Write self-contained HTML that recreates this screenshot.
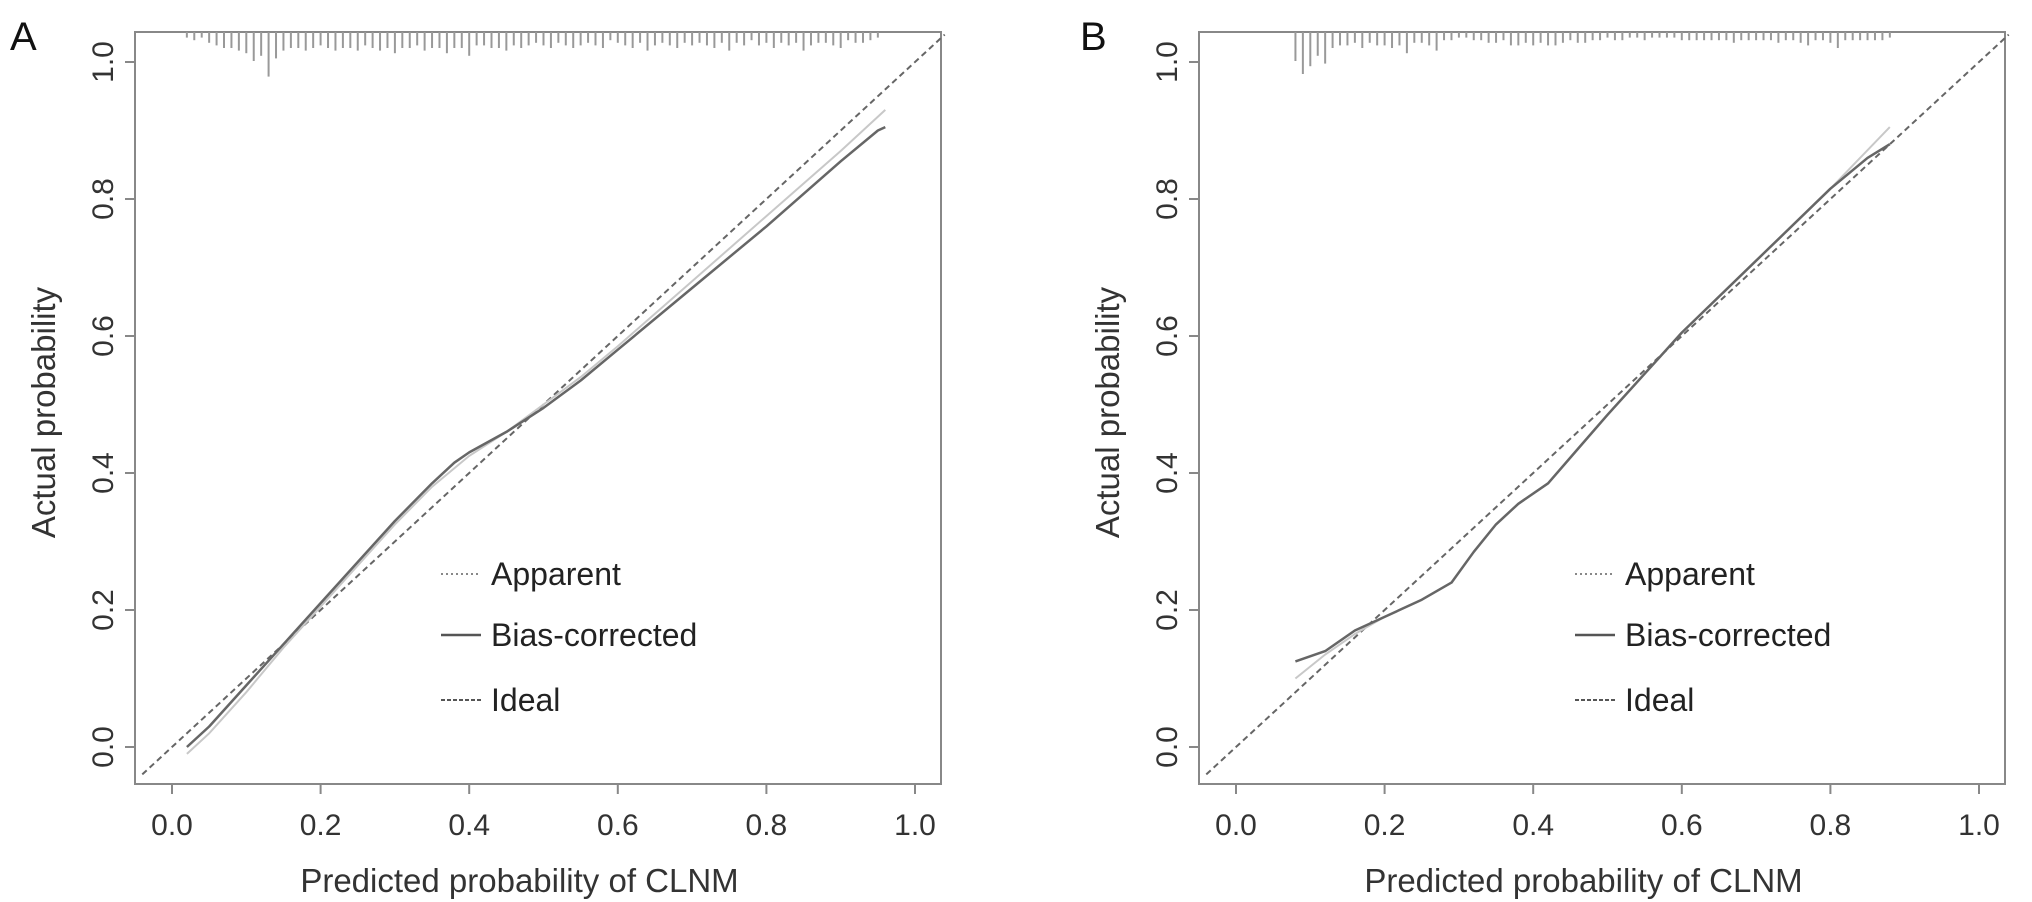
<!DOCTYPE html>
<html><head><meta charset="utf-8"><style>
html,body{margin:0;padding:0;background:#fff;}
svg{display:block;font-family:"Liberation Sans",sans-serif;}
</style></head><body>
<svg id="chart" width="2032" height="902" viewBox="0 0 2032 902" xmlns="http://www.w3.org/2000/svg"></svg>
<script>
const ticks = [0, 0.2, 0.4, 0.6, 0.8, 1.0];
const tickLabels = ["0.0", "0.2", "0.4", "0.6", "0.8", "1.0"];
const legendLabels = ["Apparent", "Bias-corrected", "Ideal"];
// Panel A
const aBiasX = [0.02,0.05,0.1,0.15,0.2,0.25,0.3,0.35,0.38,0.4,0.45,0.5,0.55,0.6,0.7,0.8,0.9,0.95,0.96];
const aBiasY = [0.0,0.03,0.09,0.15,0.21,0.27,0.33,0.385,0.415,0.43,0.46,0.495,0.535,0.58,0.67,0.76,0.855,0.9,0.905];
const aAppX = [0.02,0.05,0.1,0.15,0.2,0.25,0.3,0.35,0.4,0.45,0.5,0.55,0.6,0.7,0.8,0.9,0.96];
const aAppY = [-0.01,0.02,0.08,0.145,0.205,0.265,0.325,0.38,0.425,0.46,0.5,0.54,0.585,0.68,0.775,0.87,0.93];
const aRugX = [0.02,0.03,0.04,0.05,0.06,0.07,0.08,0.09,0.1,0.11,0.12,0.13,0.14,0.15,0.16,0.17,0.18,0.19,0.2,0.21,0.22,0.23,0.24,0.25,0.26,0.27,0.28,0.29,0.3,0.31,0.32,0.33,0.34,0.35,0.36,0.37,0.38,0.39,0.4,0.41,0.42,0.43,0.44,0.45,0.46,0.47,0.48,0.49,0.5,0.51,0.52,0.53,0.54,0.55,0.56,0.57,0.58,0.59,0.6,0.61,0.62,0.63,0.64,0.65,0.66,0.67,0.68,0.69,0.7,0.71,0.72,0.73,0.74,0.75,0.76,0.77,0.78,0.79,0.8,0.81,0.82,0.83,0.84,0.85,0.86,0.87,0.88,0.89,0.9,0.91,0.92,0.93,0.94,0.95];
const aRugN = [1,2,1,3,4,5,5,6,7,10,8,16,9,6,5,5,6,5,4,5,6,5,5,6,4,5,6,5,7,5,5,4,6,5,5,7,5,5,8,4,4,5,5,6,4,5,4,3,4,5,3,4,5,4,3,4,5,2,3,4,5,3,6,4,3,4,5,3,4,3,4,5,3,6,3,4,2,4,3,5,3,4,3,6,4,3,3,4,5,2,3,3,2,1];
// Panel B
const bBiasX = [0.08,0.12,0.16,0.2,0.25,0.29,0.32,0.35,0.38,0.42,0.46,0.5,0.55,0.6,0.7,0.8,0.85,0.88];
const bBiasY = [0.125,0.14,0.17,0.19,0.215,0.24,0.285,0.325,0.355,0.385,0.435,0.485,0.545,0.605,0.71,0.815,0.86,0.88];
const bAppX = [0.08,0.12,0.16,0.2,0.25,0.29,0.32,0.35,0.38,0.42,0.46,0.5,0.55,0.6,0.7,0.8,0.88];
const bAppY = [0.1,0.135,0.165,0.19,0.215,0.24,0.285,0.325,0.355,0.385,0.435,0.485,0.545,0.605,0.71,0.815,0.905];
const bRugX = [0.08,0.09,0.1,0.11,0.12,0.13,0.14,0.15,0.16,0.17,0.18,0.19,0.2,0.21,0.22,0.23,0.24,0.25,0.26,0.27,0.28,0.29,0.3,0.31,0.32,0.33,0.34,0.35,0.36,0.37,0.38,0.39,0.4,0.41,0.42,0.43,0.44,0.45,0.46,0.47,0.48,0.49,0.5,0.51,0.52,0.53,0.54,0.55,0.56,0.57,0.58,0.59,0.6,0.61,0.62,0.63,0.64,0.65,0.66,0.67,0.68,0.69,0.7,0.71,0.72,0.73,0.74,0.75,0.76,0.77,0.78,0.79,0.8,0.81,0.82,0.83,0.84,0.85,0.86,0.87,0.88];
const bRugN = [10,15,12,8,11,5,4,4,3,5,3,4,4,5,4,7,3,3,4,6,2,2,1,1,2,2,3,3,2,4,4,3,4,3,4,4,3,2,3,3,2,2,1,2,2,1,1,2,1,1,1,1,2,2,2,2,2,2,2,3,2,2,2,2,2,3,2,2,3,4,2,2,3,5,2,2,2,2,2,2,1];

const NS = "http://www.w3.org/2000/svg";
const svg = document.getElementById("chart");
function mk(tag, attrs, parent) {
  const e = document.createElementNS(NS, tag);
  for (const k in attrs) e.setAttribute(k, attrs[k]);
  (parent || svg).appendChild(e);
  return e;
}
function pathD(xs, ys, sx, sy) {
  return xs.map((v, i) => (i ? "L" : "M") + sx(v).toFixed(1) + "," + sy(ys[i]).toFixed(1)).join(" ");
}
function panel(p) {
  const g = mk("g", {});
  
  
  const sx = v => p.x0 + v * 743;
  const sy = v => 747 - v * 685;
  const L = p.x0 - 37, R = p.x0 + 769, T = 32, B = 784;
  const frame = mk("rect", {x: L, y: T, width: R - L, height: B - T, fill: "none", stroke: "#888", "stroke-width": 2}, g);
  
  
  const lab = mk("text", {x: p.labX, y: 50, "font-size": 40, fill: "#111"}, g);
  lab.textContent = p.id;
  
  
  ticks.forEach((t, i) => {
    mk("line", {x1: sx(t), x2: sx(t), y1: B, y2: B + 10, stroke: "#888", "stroke-width": 2}, g);
    const xt = mk("text", {x: sx(t), y: 835, "font-size": 30, "text-anchor": "middle", fill: "#333"}, g);
    xt.textContent = tickLabels[i];
    
    
    mk("line", {x1: L - 10, x2: L, y1: sy(t), y2: sy(t), stroke: "#888", "stroke-width": 2}, g);
    const yt = mk("text", {x: 0, y: 0, "font-size": 30, "text-anchor": "middle", fill: "#333",
      transform: `translate(${L - 22},${sy(t)}) rotate(-90)`}, g);
    yt.textContent = tickLabels[i];
    
    
  });
  const xtitle = mk("text", {x: sx(0.5) - 24, y: 892, "font-size": 33, "text-anchor": "middle", fill: "#333"}, g);
  xtitle.textContent = "Predicted probability of CLNM";
  
  
  const ytitle = mk("text", {x: 0, y: 0, "font-size": 33, "text-anchor": "middle", fill: "#333",
    transform: `translate(${L - 80},${sy(0.5) + 8}) rotate(-90)`}, g);
  ytitle.textContent = "Actual probability";
  
  
  p.rugX.forEach((v, i) => {
    const r = mk("line", {x1: sx(v), x2: sx(v), y1: T, y2: T + 3 + p.rugN[i] * 2.6, stroke: "#999", "stroke-width": 2}, g);
    
    
  });
  const ideal = mk("line", {x1: sx(-0.04), y1: sy(-0.04), x2: sx(1.04), y2: sy(1.04), stroke: "#666", "stroke-width": 2, "stroke-dasharray": "6,4"}, g);
  
  
  const app = mk("path", {d: pathD(p.appX, p.appY, sx, sy), fill: "none", stroke: "#c8c8c8", "stroke-width": 2}, g);
  
  
  const bias = mk("path", {d: pathD(p.biasX, p.biasY, sx, sy), fill: "none", stroke: "#666", "stroke-width": 2.5, "stroke-linejoin": "round"}, g);
  
  
  const styles = [{s: "#888", d: "2,3", w: 2}, {s: "#555", d: "", w: 2.5}, {s: "#555", d: "4,2", w: 2}];
  const rows = [574, 635, 700];
  legendLabels.forEach((t, i) => {
    const lg = mk("g", {}, g);
    
    
    mk("line", {x1: p.legX, x2: p.legX + 40, y1: rows[i], y2: rows[i], stroke: styles[i].s, "stroke-width": styles[i].w, "stroke-dasharray": styles[i].d}, lg);
    const tx = mk("text", {x: p.legX + 50, y: rows[i] + 11, "font-size": 32, fill: "#222"}, lg);
    tx.textContent = t;
  });
}
panel({id: "A", x0: 172, labX: 10, legX: 441, biasX: aBiasX, biasY: aBiasY, appX: aAppX, appY: aAppY, rugX: aRugX, rugN: aRugN});
panel({id: "B", x0: 1236, labX: 1080, legX: 1575, biasX: bBiasX, biasY: bBiasY, appX: bAppX, appY: bAppY, rugX: bRugX, rugN: bRugN});
</script>
</body></html>
